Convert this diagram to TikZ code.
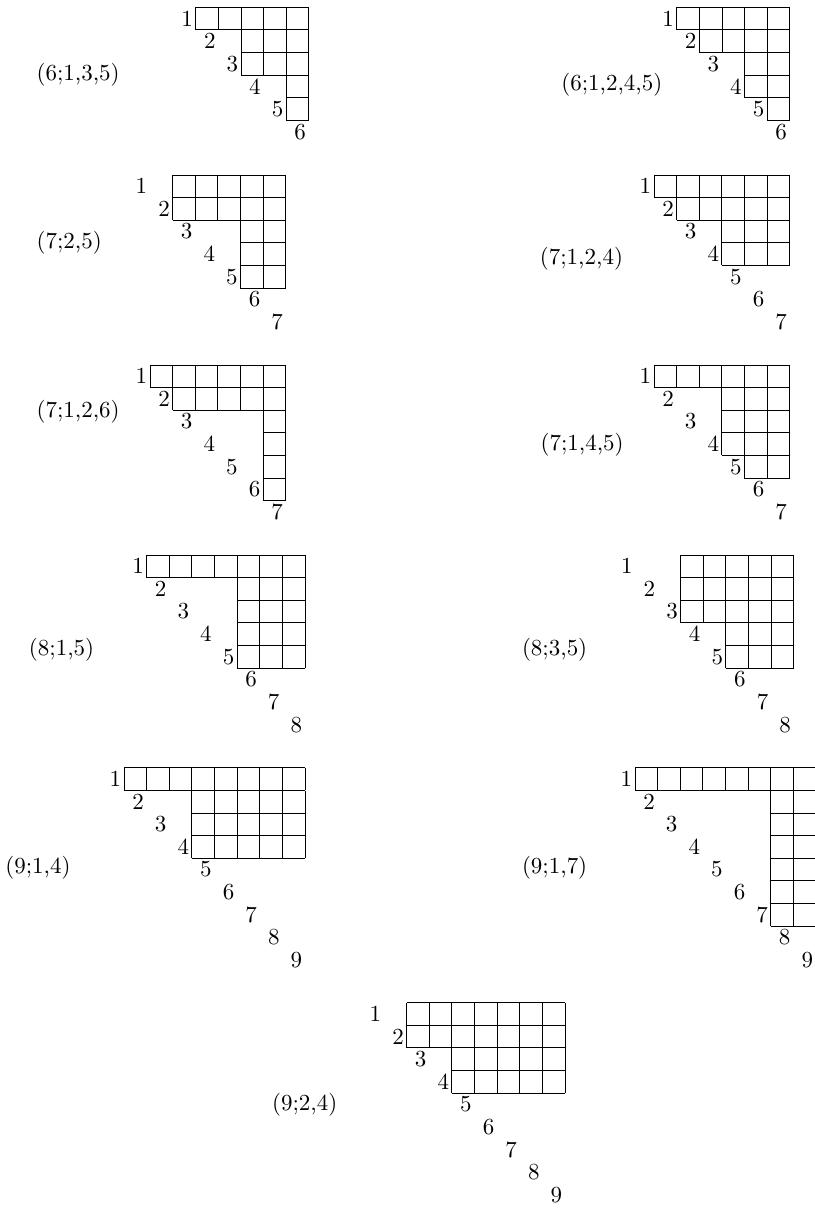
\documentclass[tikz,border=0pt]{standalone}

\begin{document}
\begin{tikzpicture}[x=0.3786cm,y=0.3786cm,
    every node/.style={font=\fontsize{10.95}{13.6}\selectfont},
    numlbl/.style={inner sep=0pt},
    titlelbl/.style={inner sep=0pt,anchor=west},
    cellgrid/.style={step=1,line width=0.4pt}]
  \useasboundingbox (0,0) rectangle (36.03,-53.45);
  % --- (6;1,3,5)
  \begin{scope}[shift={(7.653,-0.323)}]
    \draw[cellgrid] (1,0) grid (6,-1) (3,-1.01) grid (6,-3) (5,-3.01) grid (6,-5);
    \foreach \k in {1,...,6} \node[numlbl] (a\k) at (\k-0.38,0.5-\k) {\k};
  \end{scope}
  \node[titlelbl] (ta) at (1.60,-3.316) {(6;1,3,5)};
  % --- (6;1,2,4,5)
  \begin{scope}[shift={(28.917,-0.323)}]
    \draw[cellgrid] (1,0) grid (6,-1) (2,-1.01) grid (6,-2) (4,-2.01) grid (6,-4)
      (5,-4.01) grid (6,-5);
    \foreach \k in {1,...,6} \node[numlbl] (b\k) at (\k-0.38,0.5-\k) {\k};
  \end{scope}
  \node[titlelbl] (tb) at (24.80,-3.758) {(6;1,2,4,5)};
  % --- (7;2,5)
  \begin{scope}[shift={(5.632,-7.737)}]
    \draw[cellgrid] (2,0) grid (7,-2) (5,-2.01) grid (7,-5);
    \foreach \k in {1,...,7} \node[numlbl] (c\k) at (\k-0.38,0.5-\k) {\k};
  \end{scope}
  \node[titlelbl] (tc) at (1.60,-10.743) {(7;2,5)};
  % --- (7;1,2,4)
  \begin{scope}[shift={(27.913,-7.737)}]
    \draw[cellgrid] (1,0) grid (7,-1) (2,-1.01) grid (7,-2) (4,-2.01) grid (7,-4);
    \foreach \k in {1,...,7} \node[numlbl] (d\k) at (\k-0.38,0.5-\k) {\k};
  \end{scope}
  \node[titlelbl] (td) at (23.85,-11.42) {(7;1,2,4)};
  % --- (7;1,2,6)
  \begin{scope}[shift={(5.632,-16.136)}]
    \draw[cellgrid] (1,0) grid (7,-1) (2,-1.01) grid (7,-2) (6,-2.01) grid (7,-6);
    \foreach \k in {1,...,7} \node[numlbl] (e\k) at (\k-0.38,0.5-\k) {\k};
  \end{scope}
  \node[titlelbl] (te) at (1.60,-18.214) {(7;1,2,6)};
  % --- (7;1,4,5)
  \begin{scope}[shift={(27.913,-16.136)}]
    \draw[cellgrid] (1,0) grid (7,-1) (4,-1.01) grid (7,-4) (5,-4.01) grid (7,-5);
    \foreach \k in {1,...,7} \node[numlbl] (f\k) at (\k-0.38,0.5-\k) {\k};
  \end{scope}
  \node[titlelbl] (tf) at (23.88,-19.673) {(7;1,4,5)};
  % --- (8;1,5)
  \begin{scope}[shift={(5.482,-24.536)}]
    \draw[cellgrid] (1,0) grid (8,-1) (5,-1.01) grid (8,-5);
    \foreach \k in {1,...,8} \node[numlbl] (g\k) at (\k-0.38,0.5-\k) {\k};
  \end{scope}
  \node[titlelbl] (tg) at (1.26,-28.736) {(8;1,5)};
  % --- (8;3,5)
  \begin{scope}[shift={(27.091,-24.536)}]
    \draw[cellgrid] (3,0) grid (8,-3) (5,-3.01) grid (8,-5);
    \foreach \k in {1,...,8} \node[numlbl] (h\k) at (\k-0.38,0.5-\k) {\k};
  \end{scope}
  \node[titlelbl] (th) at (23.06,-28.736) {(8;3,5)};
  % --- (9;1,4)
  \begin{scope}[shift={(4.483,-33.939)}]
    \draw[cellgrid] (1,0) grid (9,-1) (4,-1.01) grid (9,-4);
    \foreach \k in {1,...,9} \node[numlbl] (i\k) at (\k-0.38,0.5-\k) {\k};
  \end{scope}
  \node[titlelbl] (ti) at (0.22,-38.37) {(9;1,4)};
  % --- (9;1,7)
  \begin{scope}[shift={(27.073,-33.939)}]
    \draw[cellgrid] (1,0) grid (9,-1) (7,-1.01) grid (9,-7);
    \foreach \k in {1,...,9} \node[numlbl] (j\k) at (\k-0.38,0.5-\k) {\k};
  \end{scope}
  \node[titlelbl] (tj) at (23.06,-38.37) {(9;1,7)};
  % --- (9;2,4)
  \begin{scope}[shift={(15.977,-44.328)}]
    \draw[cellgrid] (2,0) grid (9,-2) (4,-2.01) grid (9,-4);
    \foreach \k in {1,...,9} \node[numlbl] (k\k) at (\k-0.38,0.5-\k) {\k};
  \end{scope}
  \node[titlelbl] (tk) at (12.01,-48.85) {(9;2,4)};
\end{tikzpicture}
\end{document}
